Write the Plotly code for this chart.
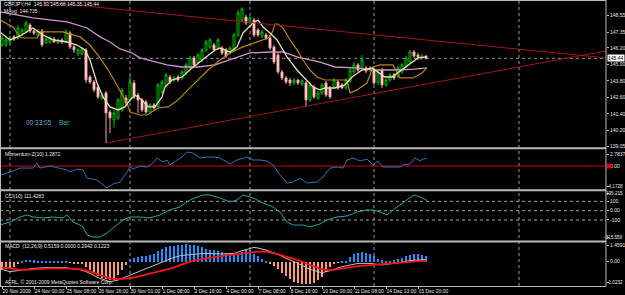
import plotly.graph_objects as go

# ---------------- data ----------------
bar_index = list(range(107))
opens = [146.41,146.41,146.63,147.00,146.92,147.21,147.36,147.87,147.43,147.07,
         147.43,146.56,146.63,146.85,146.56,146.78,146.63,147.29,146.27,145.76,
         145.76,146.05,144.08,143.72,143.35,142.55,142.92,141.53,140.95,141.10,
         141.68,142.55,142.41,143.64,142.77,142.41,142.26,141.53,142.04,141.90,
         142.99,143.50,144.08,143.86,144.08,144.01,144.37,144.81,145.47,145.10,
         145.32,146.05,146.27,146.41,146.19,146.19,146.05,145.83,146.05,147.14,
         148.23,148.45,148.09,148.23,147.50,147.07,147.14,146.92,146.27,145.68,
         144.45,144.01,143.86,143.64,143.86,143.57,143.64,142.41,143.35,142.55,
         142.92,143.64,143.28,143.35,143.72,143.50,143.28,143.79,144.45,144.96,
         144.74,144.74,144.59,144.59,143.64,144.59,143.50,143.86,144.23,144.15,
         144.45,144.88,145.17,145.90,145.68,145.47,145.60]
highs = [147.14,147.00,147.07,147.14,147.87,147.65,148.16,148.01,147.58,147.58,
         147.58,147.00,147.07,147.00,146.92,146.92,147.58,147.43,146.41,146.19,
         146.27,146.19,144.23,143.86,143.50,142.92,143.06,141.68,141.68,142.55,
         143.28,142.77,144.23,143.86,142.92,142.55,142.41,142.19,142.19,143.64,
         143.86,144.37,144.23,144.15,144.23,144.59,145.10,145.61,145.61,145.83,
         146.19,146.78,146.92,146.56,146.92,146.34,146.19,146.34,147.29,148.96,
         149.18,148.60,148.52,148.38,147.65,147.50,147.29,147.14,146.41,145.83,
         144.59,144.15,144.01,144.01,143.94,143.94,143.79,143.64,143.50,143.06,
         143.64,143.79,143.43,144.01,143.86,143.64,144.01,144.74,145.17,145.10,
         145.68,144.88,144.88,144.74,144.59,144.74,144.01,144.37,144.37,144.88,
         145.10,145.61,146.05,146.05,145.83,145.76,145.68]
lows = [146.27,146.27,146.49,146.70,146.78,147.07,147.29,147.29,147.14,147.00,
        146.27,146.49,146.49,146.56,146.49,146.49,146.56,146.12,145.83,145.61,
        145.68,143.64,143.57,142.99,142.48,142.41,139.27,140.00,140.37,140.95,
        141.53,141.97,142.26,142.48,141.46,141.53,141.39,141.39,141.61,141.75,
        142.84,143.35,143.57,143.72,143.72,143.86,144.23,144.66,144.81,144.96,
        145.17,145.90,146.12,145.90,146.05,145.68,145.47,145.68,145.90,147.00,
        148.09,147.87,147.94,147.00,147.00,146.92,146.78,146.05,145.03,144.30,
        143.86,143.57,143.43,143.50,143.50,143.43,141.90,142.26,142.48,142.41,
        142.77,142.63,142.48,143.21,143.14,143.21,143.14,143.64,144.30,144.45,
        144.59,144.37,144.45,143.50,143.50,143.28,143.35,143.72,143.86,144.01,
        144.30,144.74,145.03,145.47,145.32,145.32,145.35]
closes = [146.92,146.78,146.92,146.85,147.65,147.50,148.01,147.43,147.29,147.43,
          146.41,146.85,146.92,146.63,146.78,146.63,147.36,146.27,146.05,146.05,
          146.12,143.86,143.72,143.14,142.63,142.77,141.46,141.10,141.46,142.41,
          143.14,142.19,143.72,142.63,142.41,141.68,141.53,142.04,141.82,143.50,
          143.72,144.23,143.72,144.01,143.86,144.45,144.96,145.47,144.96,145.68,
          146.05,146.63,146.78,146.05,146.78,145.83,145.61,146.19,147.14,148.74,
          149.03,148.01,148.38,147.14,147.14,147.36,146.92,146.19,145.17,144.45,
          144.01,143.72,143.64,143.86,143.64,143.79,142.41,143.50,142.63,142.92,
          143.50,142.77,142.63,143.86,143.28,143.28,143.86,144.59,144.96,144.59,
          145.32,144.52,144.74,143.64,144.45,143.50,143.86,144.23,144.01,144.74,
          144.96,145.47,145.90,145.61,145.54,145.61,145.44]

cream_x = [-0.5,2,4.5,7.75,10.25,12.75,16.25,18.75,20.75,22,23.75,25.25,27,29,30.75,32,33.25,35,36.5,38.25,
           40,40.75,42.5,45,47.5,50,53.25,54.5,57,58.75,60.25,62.75,64,65.25,67,68.75,71.25,73.75,76.25,77.75,
           79.5,80.75,83.25,85.75,87.5,90,92.5,94,95.75,97.5,100,102.5,104,106.25]
cream_y = [147.36,146.78,147.07,147.65,147.14,146.78,146.63,146.41,146.05,145.32,143.64,142.63,141.90,141.68,141.90,142.41,142.77,142.41,141.90,141.90,
           142.63,143.35,143.86,144.08,144.74,145.32,146.05,146.19,145.90,146.27,147.29,148.01,148.23,147.72,147.29,146.78,145.54,144.59,143.86,143.35,
           143.14,143.28,143.28,143.50,144.08,144.59,144.74,144.45,144.08,144.08,144.59,145.10,145.47,145.54]

gold_x = [-0.5,2.75,4.5,5,8.75,9.5,15.25,19.5,22,24.5,27,29.5,31.25,32,34.5,36.25,39,41.5,44,46.5,
          49,51.5,54.5,57,60.25,63.75,66.5,67.5,68.25,69,70.25,72,73.75,75.25,77,78.75,80.75,86.25,87,88.75,
          91.25,92.75,94.5,97.75,99.5,102.75,105,106.25]
gold_y = [148.23,147.72,147.00,146.92,146.92,147.36,147.36,147.00,146.41,145.47,144.37,143.14,142.19,141.53,141.31,141.31,141.82,141.90,142.41,143.14,
          143.86,144.59,145.32,145.83,146.27,146.63,146.92,147.29,147.94,147.94,147.65,146.78,146.05,145.32,144.59,144.08,143.86,143.86,142.92,143.14,
          143.64,144.81,144.96,144.96,144.01,144.01,144.37,144.74]

pink_x = [-0.5,7.75,16.25,21.25,24.5,27,29.5,32.5,34.5,36.5,41.25,45,49,53.25,57,62,67,70.25,73.75,77,79.5,83.25,88.25,93.25,98.25,103.25,106.25]
pink_y = [148.82,148.38,148.09,147.65,147.00,146.63,146.12,145.83,145.47,145.32,144.96,144.81,144.81,144.96,145.32,145.83,145.90,145.90,145.54,145.32,145.17,144.81,144.74,144.59,144.59,144.66,144.74]

trend_top_x = [10.25, 151]
trend_top_y = [149.56, 145.47]
trend_bot_x = [26, 151]
trend_bot_y = [139.27, 145.98]
BID = 145.44

mom_x = [-0.5,2,4.5,7.75,8.75,9.5,12,14.5,16.25,17,18.75,20.25,21.25,23.75,25.25,26.25,27.75,29.5,31.25,32,
         32.75,34.5,36.25,37.75,38.75,40.25,41.25,42,43.75,45,46.25,47.75,49.5,51.25,52.75,54.5,56.25,57,58.75,60.25,
         61.25,62.75,64.5,66.25,67.75,69.5,71.25,72.75,74.5,76.25,78.75,80.25,82,83.75,85.25,86.25,87.75,89.5,91.25,92.75,
         94,95.25,97.75,99.5,100.25,102,103.25,104.5,105.75,106.25]
mom_v = [-1.65,-1.10,-0.37,-0.37,0.55,-0.37,0.0,-0.37,-0.73,-1.10,-0.55,-0.73,-2.19,-2.56,-3.47,-4.02,-3.29,-2.93,-1.10,-0.18,
         -0.55,0.0,-0.18,0.55,1.46,0.73,1.10,0.18,1.10,1.65,2.56,2.38,1.46,1.65,1.65,1.46,0.73,0.37,1.10,1.46,
         1.65,1.10,1.10,0.91,0.18,-1.65,-3.11,-2.93,-2.19,-3.11,-2.93,-2.01,-0.37,-0.18,-0.37,1.10,1.46,0.91,1.28,0.18,
         0.91,-0.18,-0.18,-0.18,0.18,0.37,1.46,0.91,1.46,1.28]

cci_x = [-0.5,2,4.5,6.25,7.75,10.25,12.75,15.25,16.25,17.75,19.5,20.25,21.25,22.75,24.5,26.25,27.75,30.25,32,34.5,
         37,39.5,42,44.5,47,50.25,52,54.5,57,58.75,60.25,62.75,65.25,67.75,69.5,71.25,72.75,75.25,77,79.5,
         81.25,83.75,86.25,88.75,91.25,92.75,94.5,96.25,97.75,99.5,101.25,103,104.5,106.25]
cci_v = [-154,-122,-68,-46,-68,-78,-68,-78,-46,-122,-154,-175,-261,-283,-283,-240,-186,-100,-68,-68,
         -78,-46,8,40,115,169,169,137,94,115,169,137,83,40,-14,-122,-154,-154,-175,-143,
         -100,-68,-57,-14,8,8,-14,-46,8,61,115,169,147,111]

macd_hist = [-0.44,-0.40,-0.35,-0.26,-0.12,0.07,0.12,0.12,0.10,0.07,
             0.05,0.04,0.03,0.03,0.04,0.03,0.05,-0.03,-0.05,-0.07,
             -0.12,-0.26,-0.44,-0.60,-0.75,-0.85,-0.95,-1.00,-1.00,-0.72,
             -0.44,-0.17,0.20,0.26,0.30,0.33,0.33,0.39,0.48,0.62,
             0.72,0.83,0.88,0.92,0.95,0.97,1.00,0.97,0.94,0.88,
             0.82,0.76,0.70,0.66,0.60,0.55,0.50,0.47,0.46,0.48,
             0.58,0.72,0.67,0.48,0.33,0.18,0.05,-0.07,-0.20,-0.38,
             -0.60,-0.78,-0.95,-1.10,-1.15,-1.20,-1.22,-1.19,-1.15,-1.00,
             -0.81,-0.54,-0.26,-0.07,-0.04,0.07,0.07,0.30,0.44,0.52,
             0.54,0.52,0.44,0.33,0.20,0.11,0.07,0.07,0.11,0.20,
             0.26,0.33,0.39,0.48,0.48,0.39,0.33]
macd_x = [0,2,5,8,12,16,20,22,24,27,29,31,33,35,38,40,43,45,48,51,55,58,60,63,64,66,69,71,74,77,80,82,85,89,92,95,99,102,106]
macd_main = [-0.426,-0.556,-0.463,-0.370,-0.315,-0.333,-0.463,-0.648,-0.889,-1.111,-1.019,-0.833,-0.667,-0.500,-0.222,0.0,0.241,0.352,0.426,0.463,
             0.426,0.463,0.611,0.796,0.759,0.648,0.407,0.185,-0.093,-0.426,-0.611,-0.500,-0.278,-0.093,-0.093,-0.185,-0.056,0.056,0.130]
macd_signal = [-0.315,-0.370,-0.463,-0.426,-0.370,-0.370,-0.426,-0.556,-0.704,-0.926,-0.981,-0.944,-0.889,-0.778,-0.593,-0.500,-0.333,-0.148,0.056,0.185,
               0.315,0.407,0.463,0.537,0.556,0.556,0.426,0.278,0.093,-0.185,-0.426,-0.481,-0.370,-0.241,-0.185,-0.130,-0.093,-0.037,0.056]

time_ticks = [0,8,16,24,32,40,48,56,64,72,80,88,96,104]
time_labels = ["20 Nov 2009","24 Nov 00:00","25 Nov 08:00","26 Nov 16:00","30 Nov 01:00","1 Dec 08:00",
               "2 Dec 16:00","4 Dec 00:00","7 Dec 08:00","8 Dec 16:00","10 Dec 00:00","11 Dec 08:00",
               "14 Dec 13:00","15 Dec 20:00"]
grid_bars = [2, 32, 62, 93, 129.25]
price_ticks = [148.55,147.35,146.20,145.00,143.80,142.60,141.40,140.20,139.05]
price_labels = ["148.55","147.35","146.20","145.00","143.80","142.60","141.40","140.20","139.05"]
# indicator scale labels (value position, text)
mom_ticks = [2.19, 0, -3.78]
mom_labels = ["2.7837", "0.00", "-4.1728"]
cci_levels = [100, 0, -100]
cci_ticks = [180, 100, 0, -100, -283]
cci_labels = ["195.215", "100", "0.00", "-100", "-315.559"]
macd_ticks = [0.91, 0, -1.17]
macd_labels = ["1.4591", "0.00", "-1.0232"]

# ---------------- geometry ----------------
W, H = 625, 295
ML, MR, MT, MB = 0, 19, 0, 9
PW, PH = W - ML - MR, H - MT - MB

def px(xp):
    return xp / PW

def py(yp):
    return 1 - yp / PH

FONT = "Liberation Sans, Arial, sans-serif"
TXT = "#e8e8e8"

fig = go.Figure()

fig.add_trace(go.Candlestick(
    x=bar_index, open=opens, high=highs, low=lows, close=closes,
    increasing=dict(line=dict(color="#00c000", width=1), fillcolor="#000000"),
    decreasing=dict(line=dict(color="#f4a0a0", width=1), fillcolor="#fff2f2"),
    xaxis="x", yaxis="y", hoverinfo="skip"))

fig.add_trace(go.Scatter(x=pink_x, y=pink_y, mode="lines", line=dict(color="#cf94cf", width=1.3), yaxis="y"))
fig.add_trace(go.Scatter(x=gold_x, y=gold_y, mode="lines", line=dict(color="#b8860b", width=1.2), yaxis="y"))
fig.add_trace(go.Scatter(x=cream_x, y=cream_y, mode="lines", line=dict(color="#eadcb0", width=1.3), yaxis="y"))
fig.add_trace(go.Scatter(x=trend_top_x, y=trend_top_y, mode="lines", line=dict(color="#a01414", width=1), yaxis="y"))
fig.add_trace(go.Scatter(x=trend_bot_x, y=trend_bot_y, mode="lines", line=dict(color="#a01414", width=1), yaxis="y"))

fig.add_trace(go.Scatter(x=mom_x, y=mom_v, mode="lines", line=dict(color="#2a74b8", width=1), yaxis="y2"))
fig.add_trace(go.Scatter(x=cci_x, y=cci_v, mode="lines", line=dict(color="#1fa8a8", width=1), yaxis="y3"))

hist_colors = ["#1e8fff" if v >= 0 else "#ff9a70" for v in macd_hist]
fig.add_trace(go.Bar(x=bar_index, y=macd_hist, marker=dict(color=hist_colors, line=dict(width=0)), width=0.5, yaxis="y4"))
fig.add_trace(go.Scatter(x=macd_x, y=macd_main, mode="lines", line=dict(color="#c0c0c0", width=1), yaxis="y4"))
fig.add_trace(go.Scatter(x=macd_x, y=macd_signal, mode="lines", line=dict(color="#ff1010", width=1.8), yaxis="y4"))

shapes = []
# frame / separators
for yp in [0.5, 148.3, 190.3, 241.5, 286.5]:
    shapes.append(dict(type="line", xref="paper", yref="paper", x0=0, x1=1, y0=py(yp), y1=py(yp),
                       line=dict(color="#b8b8b8", width=2 if yp not in (0.5, 286.5) else 1), layer="above"))
shapes.append(dict(type="line", xref="paper", yref="paper", x0=px(0.5), x1=px(0.5), y0=0, y1=1,
                   line=dict(color="#b8b8b8", width=1)))
shapes.append(dict(type="line", xref="paper", yref="paper", x0=1, x1=1, y0=0, y1=1,
                   line=dict(color="#b8b8b8", width=1)))
# vertical grid
for g in grid_bars:
    shapes.append(dict(type="line", xref="x", yref="paper", x0=g, x1=g, y0=0, y1=1,
                       line=dict(color="#9a9a9a", width=1, dash="dot"), layer="below"))
# bid line
shapes.append(dict(type="line", xref="paper", yref="y", x0=0, x1=1, y0=BID, y1=BID,
                   line=dict(color="#8c8c8c", width=1, dash="dot"), layer="below"))
# momentum zero
shapes.append(dict(type="line", xref="paper", yref="y2", x0=0, x1=1, y0=0, y1=0,
                   line=dict(color="#d00000", width=1), layer="below"))
shapes.append(dict(type="rect", xref="paper", yref="paper", x0=px(607), x1=px(611.5), y0=py(168.5), y1=py(163.5),
                   fillcolor="#e00000", line=dict(width=0)))
# CCI levels
for lv in cci_levels:
    shapes.append(dict(type="line", xref="paper", yref="y3", x0=0, x1=1, y0=lv, y1=lv,
                       line=dict(color="#a0a0a0", width=1, dash="dot"), layer="below"))

annotations = []
def txt(x, y, s, color=TXT, size=5):
    annotations.append(dict(xref="paper", yref="paper", x=px(x), y=py(y), text=s, showarrow=False,
                            xanchor="left", yanchor="middle", font=dict(family=FONT, size=size, color=color)))

txt(2, 4.5, "GBPJPY,H4  145.60 145.68 145.35 145.44")
txt(2, 11, "MAvg  144.735")
txt(24, 122, "00:33:05", color="#6fa8dc", size=6.5)
txt(57, 122, "Bar:", color="#22b2b8", size=6.5)
txt(3, 154, "Momentum-Z(10) 1.2872")
txt(3, 196, "CCI(10) 111.4283")
txt(3, 246, "MACD  (12,26,9) 0.5159 0.0000 0.2942 0.1223")
txt(3, 282, "AFRL, © 2001-2009 MetaQuotes Software Corp.")
annotations.append(dict(xref="paper", yref="y", x=px(607), y=BID, text="145.44", showarrow=False,
                        xanchor="left", yanchor="middle", bgcolor="#ffffff", borderpad=0,
                        font=dict(family=FONT, size=5, color="#000000")))

# long scale labels: right-aligned at the image edge so they stay whole
def split_labels(vals, labels, axis):
    short_t = []
    for v, s in zip(vals, labels):
        if len(s) >= 7:
            annotations.append(dict(xref="paper", yref=axis, x=px(624.5), y=v, text=s, showarrow=False,
                                    xanchor="right", yanchor="middle",
                                    font=dict(family=FONT, size=4.6, color=TXT)))
            short_t.append("")
        else:
            short_t.append(s)
    return short_t

mom_text = split_labels(mom_ticks, mom_labels, "y2")
cci_text = split_labels(cci_ticks, cci_labels, "y3")
macd_text = split_labels(macd_ticks, macd_labels, "y4")

yax_common = dict(side="right", anchor="x", showgrid=False, zeroline=False, ticks="outside", ticklen=2,
                  tickcolor="#b8b8b8", tickfont=dict(family=FONT, size=5, color=TXT), fixedrange=True,
                  automargin=False)

fig.update_layout(
    width=W, height=H, margin=dict(l=ML, r=MR, t=MT, b=MB, autoexpand=False),
    paper_bgcolor="#000000", plot_bgcolor="#000000", showlegend=False, bargap=0,
    xaxis=dict(range=[-0.5, 151], anchor="y4", tickvals=time_ticks, ticktext=time_labels, tickangle=0,
               ticklabelposition="outside right", ticks="outside", ticklen=2, tickcolor="#b8b8b8",
               tickfont=dict(family=FONT, size=5, color=TXT), showgrid=False, zeroline=False,
               rangeslider=dict(visible=False), fixedrange=True, automargin=False),
    yaxis=dict(domain=[py(147), py(1.5)], range=[138.98, 149.58], tickvals=price_ticks, ticktext=price_labels, **yax_common),
    yaxis2=dict(domain=[py(189), py(149.5)], range=[-4.20, 3.02], tickvals=mom_ticks, ticktext=mom_text, **yax_common),
    yaxis3=dict(domain=[py(240), py(191.5)], range=[-315, 206], tickvals=cci_ticks, ticktext=cci_text, **yax_common),
    yaxis4=dict(domain=[0, py(242.5)], range=[-1.35, 1.067], tickvals=macd_ticks, ticktext=macd_text, **yax_common),
    shapes=shapes, annotations=annotations,
)

fig.write_html("out.html")
